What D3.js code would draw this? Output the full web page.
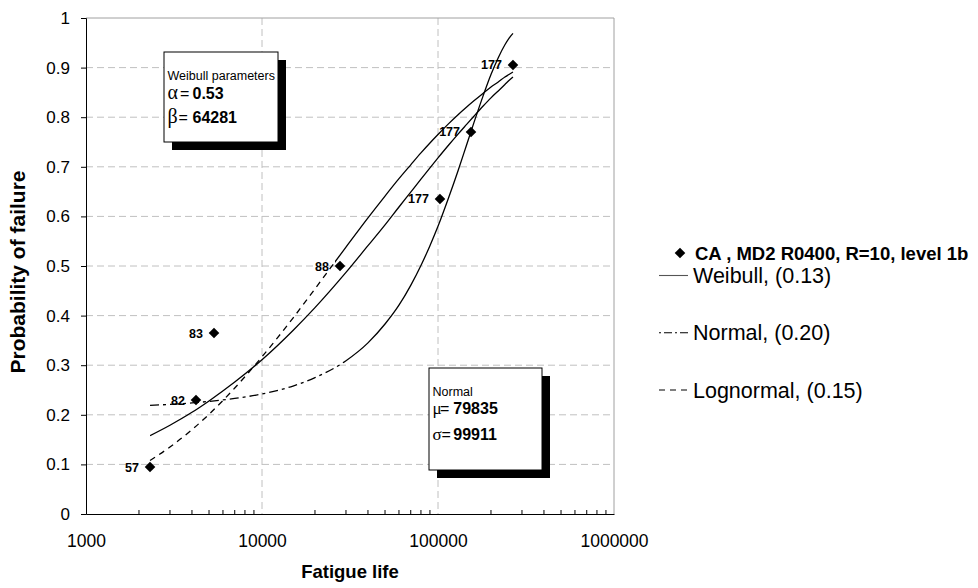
<!DOCTYPE html>
<html>
<head>
<meta charset="utf-8">
<script src="https://cdn.jsdelivr.net/npm/d3@7"></script>
<style>
  html, body { margin: 0; padding: 0; background: #ffffff; }
  svg { display: block; font-family: Arial, "Liberation Sans", sans-serif; }
</style>
</head>
<body>
<svg id="chart" width="978" height="588"></svg>
<script>
// Test specimens: fatigue life and median-rank probability of failure
const pointLife  = [2311, 4217, 5337, 27740, 102600, 154000, 266700];
const pointProb  = [0.0946, 0.2297, 0.3649, 0.5, 0.6351, 0.7703, 0.9054];
const pointLabel = ["57", "82", "83", "88", "177", "177", "177"];

// Fitted distribution curves, sampled along fatigue life
const curveLife = [2311, 3000, 4000, 5000, 7000, 10000, 15000, 20000, 30000, 40000,
                   50000, 60000, 70000, 80000, 90000, 100000, 115000, 130000, 145000,
                   160000, 180000, 200000, 220000, 240000, 253000, 266700];
const weibullProb = [0.158, 0.179, 0.205, 0.228, 0.266, 0.311, 0.370, 0.416, 0.487, 0.541,
                     0.583, 0.619, 0.649, 0.675, 0.698, 0.718, 0.744, 0.766, 0.785,
                     0.802, 0.822, 0.839, 0.853, 0.866, 0.874, 0.881];
const normalProb  = [0.219, 0.221, 0.224, 0.227, 0.233, 0.242, 0.258, 0.275, 0.309, 0.345,
                     0.383, 0.421, 0.461, 0.501, 0.541, 0.580, 0.638, 0.692, 0.743,
                     0.789, 0.842, 0.886, 0.920, 0.946, 0.959, 0.969];
const lognormalProb = [0.108, 0.135, 0.170, 0.201, 0.254, 0.317, 0.395, 0.454, 0.538, 0.597,
                       0.641, 0.676, 0.704, 0.728, 0.748, 0.765, 0.787, 0.805, 0.820,
                       0.833, 0.848, 0.861, 0.871, 0.881, 0.886, 0.891];

// Axis ticks
const xTicks = [1000, 10000, 100000, 1000000];
const yTicks = [0, 0.1, 0.2, 0.3, 0.4, 0.5, 0.6, 0.7, 0.8, 0.9, 1];

// Legend entries and parameter boxes
const seriesName = "CA , MD2 R0400, R=10, level 1b";
const fitNames = ["Weibull, (0.13)", "Normal, (0.20)", "Lognormal, (0.15)"];
const weibullAlpha = "0.53", weibullBeta = "64281";
const normalMu = "79835", normalSigma = "99911";

const svg = d3.select("#chart");
const plotL = 86, plotR = 614, plotT = 18, plotB = 514;
const sans = "Arial, 'Liberation Sans', sans-serif";
const serif = "'Liberation Serif', 'Times New Roman', serif";

const x = d3.scaleLog().domain([1000, 1000000]).range([plotL, plotR]);
const y = d3.scaleLinear().domain([0, 1]).range([plotB, plotT]);

const grid = "#c0c0c0";

// Horizontal gridlines
svg.append("g").selectAll("line").data(yTicks.filter(d => d > 0 && d < 1)).join("line")
  .attr("x1", plotL).attr("x2", plotR)
  .attr("y1", d => y(d)).attr("y2", d => y(d))
  .attr("stroke", grid).attr("stroke-width", 1).attr("stroke-dasharray", "7,4");

// Vertical gridlines at decades
svg.append("g").selectAll("line").data([10000, 100000]).join("line")
  .attr("x1", d => x(d)).attr("x2", d => x(d))
  .attr("y1", plotT).attr("y2", plotB)
  .attr("stroke", grid).attr("stroke-width", 1).attr("stroke-dasharray", "7,4");

// Plot frame (top and right)
svg.append("path")
  .attr("d", `M${plotL},${plotT}H${plotR}V${plotB}`)
  .attr("fill", "none").attr("stroke", "#a0a0a0").attr("stroke-width", 1);

// Y axis
const yAxis = d3.axisLeft(y).tickValues(yTicks).tickFormat(d3.format("")).tickSize(5).tickPadding(11);
const gy = svg.append("g").attr("transform", `translate(${plotL},0)`).call(yAxis);
gy.select(".domain").attr("stroke", "#000");
gy.selectAll(".tick line").attr("stroke", "#000");
gy.selectAll("text").attr("font-size", 17).attr("fill", "#000").attr("font-family", sans);

// X axis: minor ticks inside, labels at decades
const minor = [];
for (let p = 1000; p < 1000000; p *= 10) for (let m = 2; m <= 9; m++) minor.push(p * m);
const xAxis = d3.axisBottom(x).tickValues(xTicks).tickFormat(d3.format("d")).tickSize(0).tickPadding(21);
const gx = svg.append("g").attr("transform", `translate(0,${plotB})`).call(xAxis);
gx.select(".domain").attr("stroke", "#000");
gx.selectAll("text").attr("font-size", 17.5).attr("fill", "#000").attr("font-family", sans);
gx.append("g").selectAll("line").data(minor).join("line")
  .attr("x1", d => x(d)).attr("x2", d => x(d)).attr("y1", 0).attr("y2", -4)
  .attr("stroke", "#000");

// Axis titles
svg.append("text").attr("x", (plotL + plotR) / 2).attr("y", 578)
  .attr("text-anchor", "middle").attr("font-size", 18.5).attr("font-weight", "bold")
  .text("Fatigue life");
svg.append("text").attr("transform", `translate(25,272) rotate(-90)`)
  .attr("text-anchor", "middle").attr("font-size", 21).attr("font-weight", "bold")
  .text("Probability of failure");

// Fitted curves; the dashed styles turn continuous where the samples get dense
const defs = svg.append("defs");
function clip(id, x0, x1) {
  defs.append("clipPath").attr("id", id).append("rect")
    .attr("x", x0).attr("y", 0).attr("width", x1 - x0).attr("height", 588);
}
const fits = [
  { id: "wb", prob: weibullProb,   dash: null,        solidFrom: 2311 },
  { id: "nm", prob: normalProb,    dash: "9,4,3,4",   solidFrom: 30000 },
  { id: "ln", prob: lognormalProb, dash: "6,5",       solidFrom: 26000 }
];
const line = d3.line().curve(d3.curveMonotoneX);
fits.forEach(f => {
  const pts = curveLife.map((v, i) => [x(v), y(f.prob[i])]);
  const xs = x(f.solidFrom);
  if (f.dash) {
    clip(f.id + "-d", 0, xs);
    svg.append("path").attr("d", line(pts)).attr("fill", "none")
      .attr("stroke", "#000").attr("stroke-width", 1.3)
      .attr("stroke-dasharray", f.dash).attr("clip-path", `url(#${f.id}-d)`);
  }
  clip(f.id + "-s", xs, 978);
  svg.append("path").attr("d", line(pts)).attr("fill", "none")
    .attr("stroke", "#000").attr("stroke-width", 1.3)
    .attr("clip-path", `url(#${f.id}-s)`);
});

// Data points: square diamonds with bold specimen labels
const diamond = d3.symbol().type(d3.symbolSquare).size(56);
const pts = pointLife.map((v, i) => ({ x: x(v), y: y(pointProb[i]), label: pointLabel[i] }));
svg.append("g").selectAll("path").data(pts).join("path")
  .attr("d", diamond).attr("transform", d => `translate(${d.x},${d.y}) rotate(45)`).attr("fill", "#000");
svg.append("g").selectAll("text").data(pts).join("text")
  .attr("x", d => d.x - 11).attr("y", d => d.y + 4.5)
  .attr("text-anchor", "end").attr("font-size", 12.5).attr("font-weight", "bold")
  .text(d => d.label);

// Parameter boxes with drop shadows
function paramBox(b) {
  const g = svg.append("g");
  g.append("rect").attr("x", b.x + 8).attr("y", b.y + 8).attr("width", b.w).attr("height", b.h).attr("fill", "#000");
  g.append("rect").attr("x", b.x).attr("y", b.y).attr("width", b.w).attr("height", b.h)
    .attr("fill", "#fff").attr("stroke", "#000").attr("stroke-width", 1);
  g.append("text").attr("x", b.x + 3.5).attr("y", b.titleY).attr("font-size", 12.5).text(b.title);
  b.rows.forEach(r => {
    g.append("text").attr("x", b.x + 3.5).attr("y", r.y)
      .attr("font-size", b.symSize).attr("font-family", serif).text(r.sym);
    g.append("text").attr("x", r.eqX).attr("y", r.y).attr("font-size", 16).text("=");
    g.append("text").attr("x", b.valX).attr("y", r.y)
      .attr("font-size", 16).attr("font-weight", "bold").text(r.val);
  });
}
paramBox({ x: 164, y: 52, w: 114, h: 90, title: "Weibull parameters", titleY: 80,
  symSize: 20, valX: 192.5,
  rows: [{ sym: "α", val: weibullAlpha, y: 99, eqX: 180 }, { sym: "β", val: weibullBeta, y: 122.5, eqX: 178.5 }] });
paramBox({ x: 429, y: 368, w: 113, h: 102, title: "Normal", titleY: 396,
  symSize: 17, valX: 453.3,
  rows: [{ sym: "μ", val: normalMu, y: 413.5, eqX: 440 }, { sym: "σ", val: normalSigma, y: 440, eqX: 441.5 }] });

// Legend
const lg = svg.append("g");
lg.append("path").attr("d", diamond).attr("transform", "translate(680,253) rotate(45)").attr("fill", "#000");
lg.append("text").attr("x", 695).attr("y", 259.5).attr("font-size", 18.5).attr("font-weight", "bold").text(seriesName);
const legendY = [275.5, 332.7, 390];
const legendDash = [null, "2,3,8,3", "6,5"];
const legendStroke = ["#555", "#000", "#000"];
fitNames.forEach((name, i) => {
  lg.append("line").attr("x1", 659).attr("x2", 688).attr("y1", legendY[i]).attr("y2", legendY[i])
    .attr("stroke", legendStroke[i]).attr("stroke-width", 1.1)
    .attr("stroke-dasharray", legendDash[i]);
  lg.append("text").attr("x", 693).attr("y", legendY[i] + 7.5).attr("font-size", 21.5).text(name);
});
</script>
</body>
</html>
